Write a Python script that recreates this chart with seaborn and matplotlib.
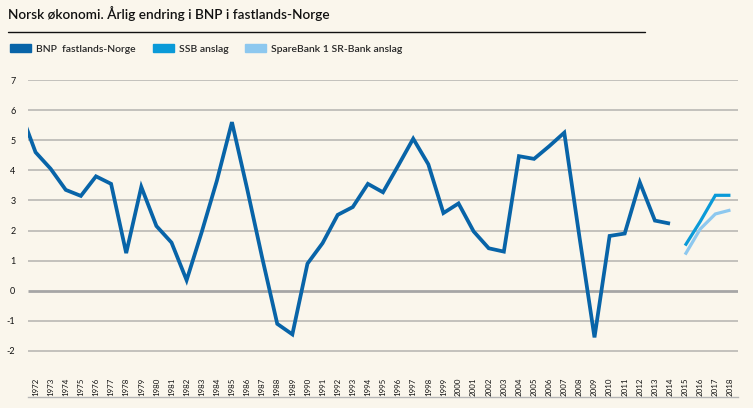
import matplotlib
matplotlib.use("Agg")
import matplotlib.pyplot as plt
from matplotlib.lines import Line2D
from matplotlib.patches import Patch
import numpy as np
import pandas as pd
import seaborn as sns

# BNP fastlands-Norge, årlig endring (%). 1971 is only partly visible at the left edge.
bnp_years = list(range(1971, 2015))
bnp_values = [5.95, 4.6, 4.05, 3.35, 3.15, 3.8, 3.55, 1.25, 3.45, 2.15,
              1.6, 0.35, 1.95, 3.65, 5.6, 3.4, 1.1, -1.1, -1.45, 0.9,
              1.58, 2.52, 2.78, 3.55, 3.27, 4.15, 5.05, 4.2, 2.58, 2.9,
              1.97, 1.41, 1.3, 4.47, 4.38, 4.8, 5.25, 1.8, -1.55, 1.82,
              1.9, 3.6, 2.33, 2.23]

fc_years = [2015, 2016, 2017, 2018]
ssb_values = [1.5, 2.3, 3.17, 3.17]
sr_values = [1.2, 2.05, 2.55, 2.68]

label_years = list(range(1972, 2019))
y_ticks = [-2, -1, 0, 1, 2, 3, 4, 5, 6, 7]

c_bnp = "#0864a8"
c_ssb = "#0a9ad8"
c_sr = "#8dc8ef"
bg = "#faf6ec"

sns.set_style("white")
plt.rcParams["font.family"] = ["Lato", "DejaVu Sans"]

bnp = pd.DataFrame({"pos": [y - 1972 for y in bnp_years], "v": bnp_values})
ssb = pd.DataFrame({"pos": [y - 1972 for y in fc_years], "v": ssb_values})
sr = pd.DataFrame({"pos": [y - 1972 for y in fc_years], "v": sr_values})

fig = plt.figure(figsize=(7.53, 4.08), dpi=100, facecolor=bg)
ax = fig.add_axes([28 / 753, 11 / 408, 710 / 753, 317 / 408])
ax.set_facecolor(bg)

for t in y_ticks:
    if t == 0:
        ax.axhline(t, color="#a6a6a6", lw=2.0, zorder=1)
    else:
        ax.axhline(t, color="#c3c1bc", lw=1.4, zorder=1)

sns.lineplot(data=bnp, x="pos", y="v", ax=ax, color=c_bnp, lw=2.7, zorder=3)
sns.lineplot(data=sr, x="pos", y="v", ax=ax, color=c_sr, lw=2.3, zorder=3)
sns.lineplot(data=ssb, x="pos", y="v", ax=ax, color=c_ssb, lw=2.3, zorder=4)
for ln in ax.lines:
    ln.set_solid_joinstyle("miter")
    ln.set_solid_capstyle("butt")

ax.set_xlim(-0.45, 46.35)
ax.set_ylim(-3.53, 7.0)

for s in ["top", "right", "left"]:
    ax.spines[s].set_visible(False)
ax.spines["bottom"].set_color("#b5b5b5")
ax.spines["bottom"].set_linewidth(1.0)

ax.set_yticks(y_ticks)
ax.set_yticklabels([str(t) for t in y_ticks], fontsize=6.5, color="#111111")
ax.tick_params(axis="y", length=0, pad=9)

ax.set_xticks(range(len(label_years)))
ax.set_xticklabels([str(y) for y in label_years], rotation=90, fontsize=5.7,
                   color="#111111")
ax.set_xticks(np.arange(-0.5, len(label_years), 1.0), minor=True)
ax.tick_params(axis="x", which="major", length=0, pad=-14)
ax.tick_params(axis="x", which="minor", length=3, color="#b5b5b5", direction="out")
ax.set_xlabel("")
ax.set_ylabel("")

fig.text(8 / 753, 1 - 14 / 408, "Norsk økonomi. Årlig endring i BNP i fastlands-Norge",
         fontsize=9.8, fontweight="semibold", color="#111111", va="center", ha="left")
fig.add_artist(Line2D([8 / 753, 645 / 753], [1 - 32 / 408, 1 - 32 / 408],
                      transform=fig.transFigure, color="#111111", lw=1.0))

handles = [Patch(color=c_bnp, label="BNP  fastlands-Norge"),
           Patch(color=c_ssb, label="SSB anslag"),
           Patch(color=c_sr, label="SpareBank 1 SR-Bank anslag")]
fig.legend(handles=handles, loc="center left", bbox_to_anchor=(0.0, 1 - 49 / 408),
           ncol=3, frameon=False, fontsize=7.5, handlelength=2.0, handleheight=0.8,
           columnspacing=1.6, handletextpad=0.5, borderaxespad=0.6,
           prop={"size": 7.5, "weight": "semibold"})

plt.savefig("out.png", dpi=100, facecolor=bg)
